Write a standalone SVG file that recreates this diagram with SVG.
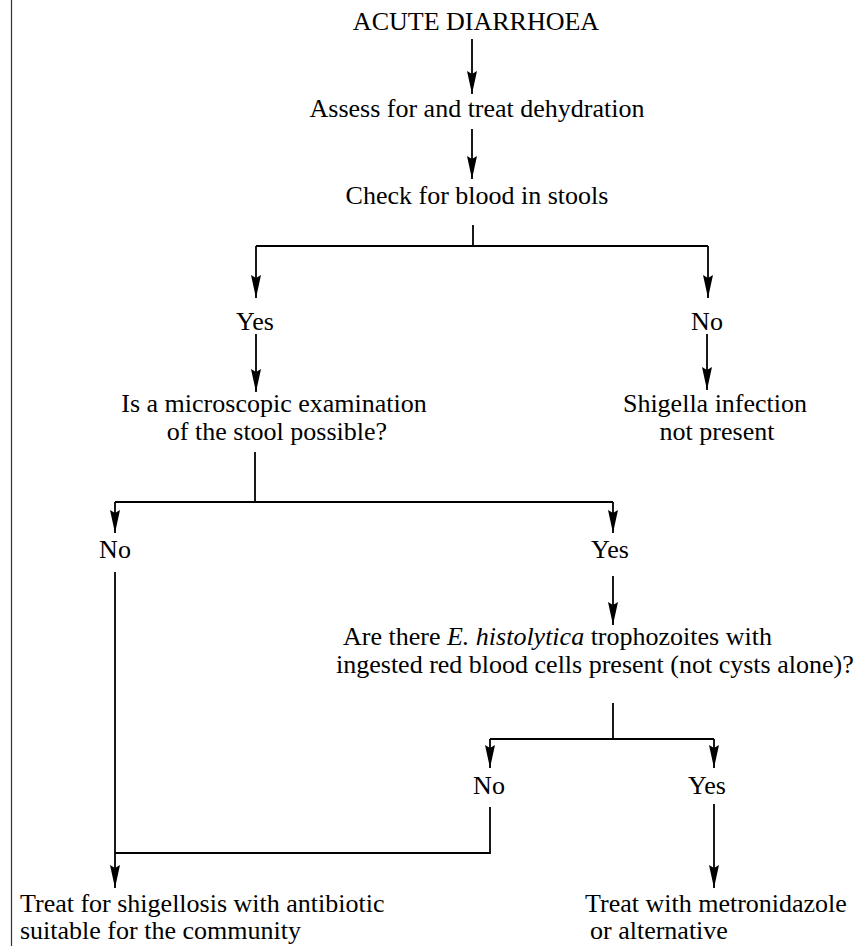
<svg xmlns="http://www.w3.org/2000/svg" width="864" height="946" viewBox="0 0 864 946">
<style>
text{font-family:"Liberation Serif","Times New Roman",serif;font-size:26px;fill:#000}
.m{text-anchor:middle}
.c line,.c path{stroke:#000;stroke-width:1.8;fill:none}
</style>
<defs>
<marker id="ah" markerUnits="userSpaceOnUse" markerWidth="23" markerHeight="10" refX="23" refY="5" orient="auto" viewBox="0 0 23 10">
<path d="M0,0 L23,5 L0,10 L3,5 Z" fill="#000"/>
</marker>
</defs>
<rect width="864" height="946" fill="#fff"/>
<line x1="11.5" y1="0" x2="11.5" y2="946" stroke="#333" stroke-width="1.2"/>
<g id="n1"><text class="m" x="476" y="30">ACUTE DIARRHOEA</text></g>
<g id="n2"><text class="m" x="477" y="117">Assess for and treat dehydration</text></g>
<g id="n3"><text class="m" x="477" y="204">Check for blood in stools</text></g>
<g id="n4"><text class="m" x="255" y="330">Yes</text></g>
<g id="n5"><text class="m" x="707" y="330">No</text></g>
<g id="n6"><text class="m" x="274" y="412">Is a microscopic examination</text><text class="m" x="277" y="440">of the stool possible?</text></g>
<g id="n7"><text class="m" x="715" y="412">Shigella infection</text><text class="m" x="717" y="440">not present</text></g>
<g id="n8"><text class="m" x="115" y="558">No</text></g>
<g id="n9"><text class="m" x="610" y="558">Yes</text></g>
<g id="n10"><text x="343" y="645">Are there <tspan font-style="italic">E. histolytica</tspan> trophozoites with</text><text x="336" y="673">ingested red blood cells present (not cysts alone)?</text></g>
<g id="n11"><text class="m" x="489" y="794">No</text></g>
<g id="n12"><text class="m" x="707" y="794">Yes</text></g>
<g id="n13"><text x="20" y="912">Treat for shigellosis with antibiotic</text><text x="20" y="939">suitable for the community</text></g>
<g id="n14"><text x="585" y="912">Treat with metronidazole</text><text x="590" y="939">or alternative</text></g>
<g id="connectors" class="c">
<line x1="472" y1="39" x2="472" y2="94" marker-end="url(#ah)"/>
<line x1="472" y1="129" x2="472" y2="179" marker-end="url(#ah)"/>
<line x1="473" y1="225" x2="473" y2="246"/>
<path d="M256,246 H708"/>
<line x1="256" y1="246" x2="256" y2="298" marker-end="url(#ah)"/>
<line x1="708" y1="246" x2="708" y2="298" marker-end="url(#ah)"/>
<line x1="256" y1="334" x2="256" y2="392" marker-end="url(#ah)"/>
<line x1="707" y1="334" x2="707" y2="390" marker-end="url(#ah)"/>
<line x1="255" y1="452" x2="255" y2="502"/>
<path d="M115,502 H613"/>
<line x1="115" y1="502" x2="115" y2="533" marker-end="url(#ah)"/>
<line x1="613" y1="502" x2="613" y2="533" marker-end="url(#ah)"/>
<line x1="613" y1="576" x2="613" y2="625" marker-end="url(#ah)"/>
<line x1="613" y1="703" x2="613" y2="739"/>
<path d="M490,739 H714"/>
<line x1="490" y1="739" x2="490" y2="768" marker-end="url(#ah)"/>
<line x1="714" y1="739" x2="714" y2="768" marker-end="url(#ah)"/>
<path d="M490,807 V853 H115"/>
<line x1="115" y1="572" x2="115" y2="888" marker-end="url(#ah)"/>
<line x1="714" y1="804" x2="714" y2="888" marker-end="url(#ah)"/>
</g>
</svg>
